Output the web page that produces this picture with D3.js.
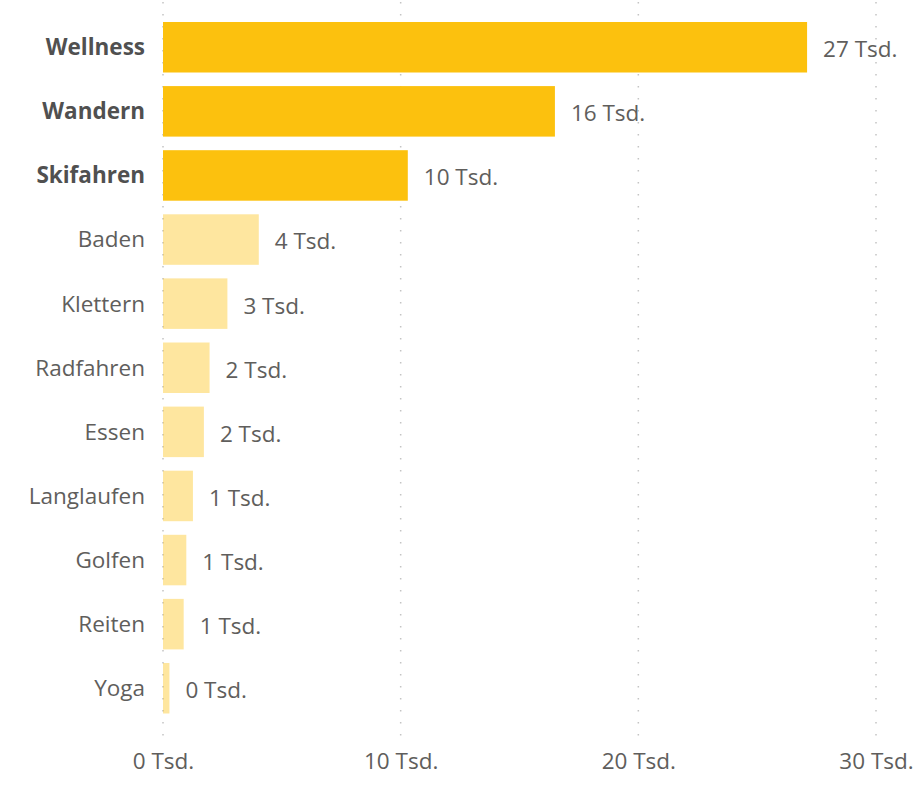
<!DOCTYPE html>
<html>
<head>
<meta charset="utf-8">
<script src="https://cdn.jsdelivr.net/npm/d3@7/dist/d3.min.js"></script>
<style>
  html, body { margin: 0; padding: 0; background: #ffffff; }
  svg { display: block; }
  text { font-family: "Segoe UI", "Open Sans", "Noto Sans", sans-serif; }
</style>
</head>
<body>
<svg id="chart" width="922" height="786"></svg>
<script>
// ---- data (values in thousands) ----
const categories = ["Wellness", "Wandern", "Skifahren", "Baden", "Klettern", "Radfahren", "Essen", "Langlaufen", "Golfen", "Reiten", "Yoga"];
const values = [27.1, 16.49, 10.3, 4.03, 2.71, 1.96, 1.72, 1.26, 0.98, 0.87, 0.27];
const highlighted = ["Wellness", "Wandern", "Skifahren"];
const xTicks = [0, 10, 20, 30];
const unitSuffix = " Tsd.";

const data = categories.map((c, i) => ({ cat: c, val: values[i], hi: highlighted.includes(c) }));

const svg = d3.select("#chart");

const x = d3.scaleLinear().domain([0, 30]).range([163, 876]);
const y = d3.scaleBand().domain(categories).range([15.2, 720.3]).paddingInner(0.212).paddingOuter(0.106);

const barColor = "#FCC10E";
const textColor = "#605E5C";
const fontSize = 22.5;

// gridlines
svg.append("g").selectAll("line").data(xTicks).join("line")
  .attr("x1", d => x(d)).attr("x2", d => x(d))
  .attr("y1", 2).attr("y2", 740)
  .attr("stroke", "#c4c4c4")
  .attr("stroke-width", 1.5)
  .attr("stroke-dasharray", "1.5,10.5");

// bars
svg.append("g").selectAll("rect").data(data).join("rect")
  .attr("x", x(0))
  .attr("y", d => y(d.cat))
  .attr("width", d => x(d.val) - x(0))
  .attr("height", y.bandwidth())
  .attr("fill", barColor)
  .attr("fill-opacity", d => d.hi ? 1 : 0.4);

// category labels
svg.append("g").selectAll("text").data(data).join("text")
  .attr("x", x(0) - 18)
  .attr("y", d => y(d.cat) + y.bandwidth() / 2)
  .attr("dy", "0.35em")
  .attr("text-anchor", "end")
  .attr("font-size", fontSize)
  .attr("font-weight", d => d.hi ? 700 : 400)
  .attr("fill", d => d.hi ? "#505050" : textColor)
  .text(d => d.cat);

// value labels
const fmt = v => d3.format(".0f")(v) + unitSuffix;
svg.append("g").selectAll("text").data(data).join("text")
  .attr("x", d => x(d.val) + 16)
  .attr("y", d => y(d.cat) + y.bandwidth() / 2 + 2)
  .attr("dy", "0.35em")
  .attr("font-size", fontSize)
  .attr("fill", textColor)
  .text(d => fmt(d.val));

// x axis
const axis = d3.axisBottom(x).tickValues(xTicks).tickSize(0).tickPadding(0)
  .tickFormat(d => d + unitSuffix);
const gx = svg.append("g").attr("transform", "translate(0,753)").call(axis);
gx.select(".domain").remove();
gx.selectAll("text")
  .attr("font-size", fontSize)
  .attr("fill", textColor)
  .attr("dy", "0.71em")
  .style("font-family", "'Segoe UI', 'Open Sans', 'Noto Sans', sans-serif");
</script>
</body>
</html>
